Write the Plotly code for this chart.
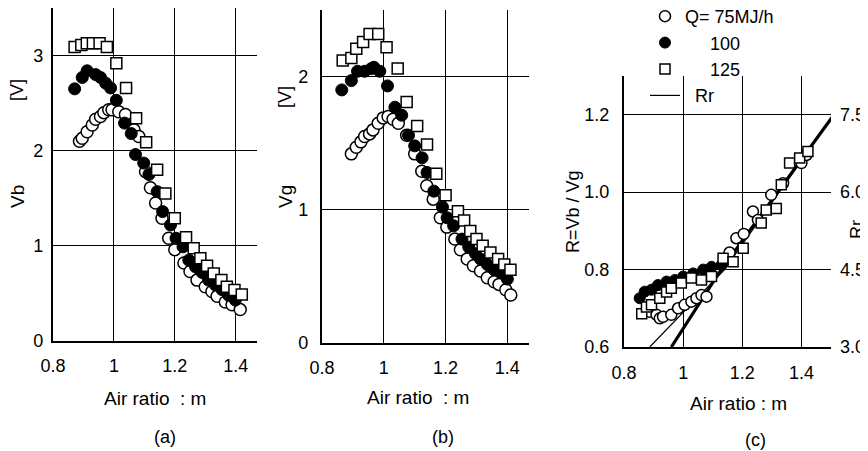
import plotly.graph_objects as go

# ---------------- data ----------------
# Panel (a): Vb [V] vs air ratio m
m_a_75 = [0.887, 0.896, 0.912, 0.929, 0.94, 0.956, 0.967, 0.983, 0.994, 1.016, 1.038, 1.066, 1.082,
          1.104, 1.12, 1.137, 1.158, 1.18, 1.20, 1.23, 1.25, 1.273, 1.30, 1.322, 1.339, 1.366, 1.388, 1.415]
vb_a_75 = [2.10, 2.13, 2.20, 2.27, 2.33, 2.36, 2.40, 2.43, 2.43, 2.41, 2.38, 2.22, 2.15,
           1.78, 1.61, 1.45, 1.29, 1.08, 0.96, 0.82, 0.73, 0.64, 0.57, 0.52, 0.47, 0.41, 0.38, 0.33]
m_a_100 = [0.871, 0.896, 0.912, 0.94, 0.956, 0.973, 0.989, 1.008, 1.035, 1.057, 1.071, 1.098, 1.115,
           1.142, 1.16, 1.186, 1.204, 1.227, 1.246, 1.268, 1.29, 1.311, 1.333, 1.355, 1.377, 1.399]
vb_a_100 = [2.65, 2.77, 2.84, 2.80, 2.77, 2.71, 2.66, 2.53, 2.29, 2.18, 1.96, 1.87, 1.75,
            1.57, 1.36, 1.22, 1.08, 0.99, 0.85, 0.78, 0.72, 0.64, 0.59, 0.54, 0.48, 0.43]
m_a_125 = [0.871, 0.893, 0.911, 0.931, 0.953, 0.977, 1.008, 1.04, 1.073, 1.106, 1.142, 1.169, 1.20,
           1.237, 1.262, 1.284, 1.306, 1.328, 1.353, 1.371, 1.396, 1.42]
vb_a_125 = [3.09, 3.11, 3.13, 3.13, 3.13, 3.09, 2.92, 2.66, 2.34, 2.09, 1.80, 1.55, 1.29,
            1.09, 0.975, 0.87, 0.79, 0.71, 0.64, 0.57, 0.535, 0.49]

# Panel (b): Vg [V] vs air ratio m
m_b_75 = [0.895, 0.911, 0.926, 0.938, 0.954, 0.965, 0.982, 0.998, 1.014, 1.03, 1.047, 1.074, 1.10,
          1.123, 1.139, 1.16, 1.183, 1.204, 1.23, 1.248, 1.27, 1.29, 1.313, 1.335, 1.357, 1.373, 1.395, 1.411]
vg_b_75 = [1.42, 1.47, 1.51, 1.55, 1.57, 1.60, 1.65, 1.69, 1.70, 1.68, 1.65, 1.56, 1.42,
           1.29, 1.18, 1.08, 0.94, 0.87, 0.78, 0.70, 0.63, 0.58, 0.54, 0.49, 0.46, 0.44, 0.40, 0.36]
m_b_100 = [0.864, 0.895, 0.915, 0.938, 0.96, 0.968, 0.987, 1.012, 1.036, 1.058, 1.08, 1.10, 1.124,
           1.14, 1.162, 1.19, 1.205, 1.226, 1.253, 1.275, 1.297, 1.313, 1.335, 1.357, 1.378, 1.40]
vg_b_100 = [1.90, 1.97, 2.04, 2.04, 2.06, 2.07, 2.04, 1.93, 1.77, 1.71, 1.56, 1.48, 1.39,
            1.28, 1.14, 1.02, 0.94, 0.88, 0.78, 0.72, 0.67, 0.63, 0.59, 0.55, 0.53, 0.48]
m_b_125 = [0.867, 0.895, 0.911, 0.933, 0.954, 0.982, 1.009, 1.045, 1.074, 1.108, 1.14, 1.17, 1.20,
           1.24, 1.26, 1.28, 1.30, 1.32, 1.345, 1.37, 1.39, 1.41]
vg_b_125 = [2.12, 2.14, 2.21, 2.26, 2.32, 2.32, 2.22, 2.06, 1.81, 1.63, 1.49, 1.27, 1.11,
            0.99, 0.92, 0.84, 0.78, 0.73, 0.68, 0.63, 0.59, 0.55]

# Panel (c): R = Vb / Vg vs air ratio m
m_c_75 = [0.887, 0.91, 0.921, 0.932, 0.96, 0.983, 1.005, 1.028, 1.045, 1.062, 1.079, 1.157, 1.18,
          1.205, 1.236, 1.253, 1.298, 1.338, 1.40, 1.417]
r_c_75 = [0.691, 0.683, 0.674, 0.678, 0.683, 0.70, 0.709, 0.717, 0.726, 0.734, 0.73, 0.844, 0.881,
          0.892, 0.95, 0.928, 0.993, 1.023, 1.075, 1.096]
m_c_100 = [0.853, 0.87, 0.893, 0.915, 0.944, 0.972, 1.0, 1.034, 1.068, 1.096, 1.13]
r_c_100 = [0.726, 0.743, 0.748, 0.76, 0.769, 0.773, 0.782, 0.79, 0.80, 0.807, 0.812]
m_c_125 = [0.86, 0.876, 0.893, 0.921, 0.944, 0.96, 0.994, 1.028, 1.062, 1.096, 1.135, 1.169, 1.203,
           1.264, 1.281, 1.315, 1.332, 1.36, 1.394, 1.422]
r_c_125 = [0.686, 0.703, 0.709, 0.726, 0.742, 0.752, 0.765, 0.778, 0.773, 0.782, 0.829, 0.82, 0.855,
           0.92, 0.954, 0.958, 1.019, 1.075, 1.088, 1.105]

# Rr reference lines (panel c), expressed on the R scale
rr_thin_m = [0.887, 1.14, 1.50]
rr_thin_r = [0.60, 0.80, 1.19]
rr_thick_m = [0.96, 1.12, 1.51]
rr_thick_r = [0.60, 0.79, 1.20]

# tick labels
x_tickvals = [0.8, 1.0, 1.2, 1.4]
x_ticktext = ["0.8", "1", "1.2", "1.4"]
ya_tickvals = [0, 1, 2, 3]
yb_tickvals = [0, 1, 2]
yc_tickvals = [0.6, 0.8, 1.0, 1.2]
yc_ticktext = ["0.6", "0.8", "1.0", "1.2"]
rr_tickvals = [3.0, 4.5, 6.0, 7.5]
rr_ticktext = ["3.0", "4.5", "6.0", "7.5"]

# ---------------- layout helpers ----------------
W, H = 868, 451
OFF = 8  # page body margin offset of the figure inside the browser window
FONT = "Liberation Sans, Arial, Helvetica, sans-serif"


def px_x(p):
    return (p - OFF) / W


def px_y(p):
    return 1 - (p - OFF) / H


def dom_y(bottom, top):
    return [max(0.0, px_y(bottom)), min(1.0, px_y(top))]


open_marker = dict(symbol="circle", size=12, color="white", line=dict(color="black", width=1.5))
fill_marker = dict(symbol="circle", size=12, color="black", line=dict(color="black", width=1))
sq_marker = dict(symbol="square", size=11, color="white", line=dict(color="black", width=1.5))
open_marker_c = dict(symbol="circle", size=11, color="white", line=dict(color="black", width=1.5))
fill_marker_c = dict(symbol="circle", size=11, color="black", line=dict(color="black", width=1))
sq_marker_c = dict(symbol="square", size=10, color="white", line=dict(color="black", width=1.5))

fig = go.Figure()

# panel (a)
fig.add_trace(go.Scatter(x=m_a_75, y=vb_a_75, mode="markers", marker=open_marker,
                         xaxis="x", yaxis="y", showlegend=False))
fig.add_trace(go.Scatter(x=m_a_100, y=vb_a_100, mode="markers", marker=fill_marker,
                         xaxis="x", yaxis="y", showlegend=False))
fig.add_trace(go.Scatter(x=m_a_125, y=vb_a_125, mode="markers", marker=sq_marker,
                         xaxis="x", yaxis="y", showlegend=False))
# panel (b)
fig.add_trace(go.Scatter(x=m_b_75, y=vg_b_75, mode="markers", marker=open_marker,
                         xaxis="x2", yaxis="y2", showlegend=False))
fig.add_trace(go.Scatter(x=m_b_100, y=vg_b_100, mode="markers", marker=fill_marker,
                         xaxis="x2", yaxis="y2", showlegend=False))
fig.add_trace(go.Scatter(x=m_b_125, y=vg_b_125, mode="markers", marker=sq_marker,
                         xaxis="x2", yaxis="y2", showlegend=False))
# panel (c)
fig.add_trace(go.Scatter(x=rr_thick_m, y=rr_thick_r, mode="lines", line=dict(color="black", width=3.2),
                         xaxis="x3", yaxis="y3", showlegend=False))
fig.add_trace(go.Scatter(x=rr_thin_m, y=rr_thin_r, mode="lines", line=dict(color="black", width=1.2),
                         xaxis="x3", yaxis="y3", showlegend=False))
fig.add_trace(go.Scatter(x=m_c_75, y=r_c_75, mode="markers", marker=open_marker_c,
                         xaxis="x3", yaxis="y3", name="Q= 75MJ/h", legendrank=1,
                         legendgroup="g1"))
fig.add_trace(go.Scatter(x=m_c_100, y=r_c_100, mode="markers", marker=fill_marker_c,
                         xaxis="x3", yaxis="y3", name="\u00a0\u00a0\u00a0\u00a0\u00a0100", legendrank=2,
                         legendgroup="g2"))
fig.add_trace(go.Scatter(x=m_c_125, y=r_c_125, mode="markers", marker=sq_marker_c,
                         xaxis="x3", yaxis="y3", name="\u00a0\u00a0\u00a0\u00a0\u00a0125", legendrank=3,
                         legendgroup="g3"))
# legend entry for Rr (line)
fig.add_trace(go.Scatter(x=[None], y=[None], mode="lines", line=dict(color="black", width=1.2),
                         xaxis="x3", yaxis="y3", name="\u00a0\u00a0Rr", legendrank=4, legendgroup="g4"))
# invisible trace to activate the right Rr axis
fig.add_trace(go.Scatter(x=[None], y=[None], mode="markers", xaxis="x3", yaxis="y4",
                         showlegend=False, hoverinfo="skip"))

axis_common = dict(showline=True, linecolor="black", linewidth=2.4, showgrid=True,
                   gridcolor="black", gridwidth=1.3, zeroline=False, ticks="", automargin=False,
                   tickfont=dict(family=FONT, size=18, color="black"), mirror=False)

fig.update_layout(
    template="none",
    width=W, height=H,
    margin=dict(l=0, r=0, t=0, b=0, pad=0, autoexpand=False),
    paper_bgcolor="white", plot_bgcolor="white",
    font=dict(family=FONT, size=18, color="black"),
    xaxis=dict(axis_common, domain=[px_x(53), px_x(257)], range=[0.8, 1.47], anchor="y",
               tickvals=x_tickvals, ticktext=x_ticktext, ticklabelstandoff=7),
    yaxis=dict(axis_common, domain=dom_y(341, 8), range=[0, 3.5], anchor="x",
               tickvals=ya_tickvals, ticklabelstandoff=4),
    xaxis2=dict(axis_common, domain=[px_x(322), px_x(529)], range=[0.8, 1.47], anchor="y2",
                tickvals=x_tickvals, ticktext=x_ticktext, ticklabelstandoff=7),
    yaxis2=dict(axis_common, domain=dom_y(343, 10), range=[0, 2.5], anchor="x2",
                tickvals=yb_tickvals, ticklabelstandoff=8),
    xaxis3=dict(axis_common, domain=[px_x(624), px_x(831)], range=[0.8, 1.5], anchor="y3",
                tickvals=x_tickvals, ticktext=x_ticktext, ticklabelstandoff=8),
    yaxis3=dict(axis_common, domain=dom_y(347, 76), range=[0.6, 1.3], anchor="x3",
                tickvals=yc_tickvals, ticktext=yc_ticktext, ticklabelstandoff=9),
    yaxis4=dict(overlaying="y3", side="right", anchor="x3", range=[3.0, 8.25],
                tickvals=rr_tickvals, ticktext=rr_ticktext, showgrid=False, showline=False,
                zeroline=False, ticks="", ticklabelstandoff=8, automargin=False,
                tickfont=dict(family=FONT, size=18, color="black")),
    legend=dict(x=px_x(645), y=px_y(-2), xanchor="left", yanchor="top", bgcolor="rgba(0,0,0,0)",
                font=dict(family=FONT, size=18, color="black"), tracegroupgap=7,
                traceorder="normal", borderwidth=0),
    showlegend=True,
)


def ann(text, xp, yp, angle=0, size=18):
    fig.add_annotation(text=text, x=px_x(xp), y=px_y(yp), xref="paper", yref="paper",
                       showarrow=False, textangle=angle, xanchor="center", yanchor="middle",
                       font=dict(family=FONT, size=size, color="black"))


ann("Air ratio\u00a0 : m", 155, 398, size=19)
ann("(a)", 165, 437)
ann("Vb", 17, 197, -90, size=19)
ann("[V]", 17, 90, -90)

ann("Air ratio\u00a0 : m", 418, 397, size=19)
ann("(b)", 443, 437)
ann("Vg", 285, 197, -90, size=19)
ann("[V]", 285, 97, -90)

ann("Air ratio : m", 738, 403, size=19)
ann("(c)", 755, 440)
ann("R=Vb / Vg", 573, 212, -90)
ann("Rr", 857, 230, -90)

fig.write_html("out.html")
